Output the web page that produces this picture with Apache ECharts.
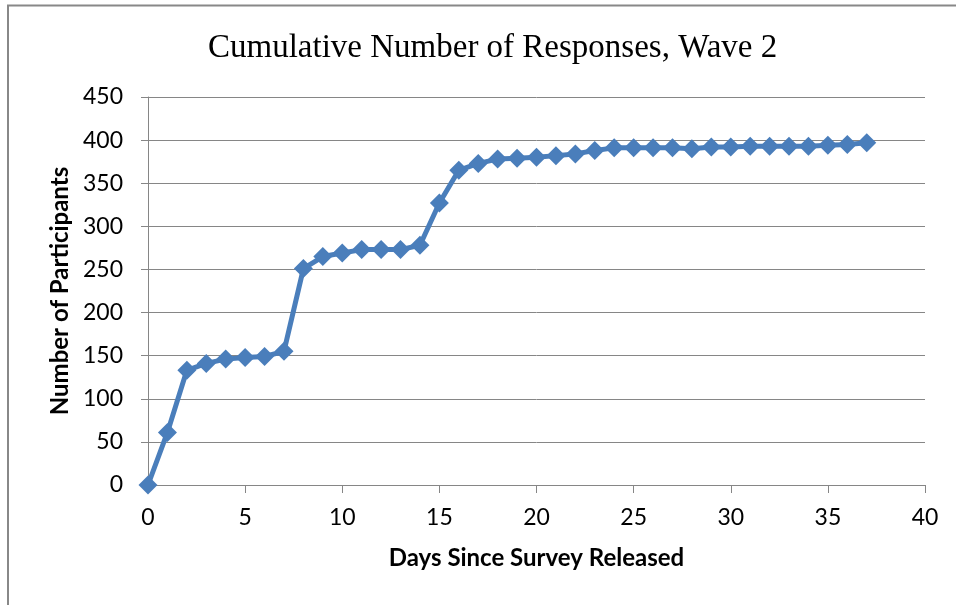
<!DOCTYPE html>
<html>
<head>
<meta charset="utf-8">
<script src="https://cdn.jsdelivr.net/npm/echarts@6/dist/echarts.min.js"></script>
<style>html,body{margin:0;padding:0;background:#fff}#c{width:956px;height:605px}</style>
</head>
<body>
<div id="c"></div>
<script>
const titleText = "Cumulative Number of Responses, Wave 2";
const xAxisName = "Days Since Survey Released";
const yAxisName = "Number of Participants";
const days = [0,1,2,3,4,5,6,7,8,9,10,11,12,13,14,15,16,17,18,19,20,21,22,23,24,25,26,27,28,29,30,31,32,33,34,35,36,37];
const responses = [0,61,133,141,146,148,149,155,251,265,269,273,273,273,278,327,365,373,378,379,380,382,384,388,391,391,391,391,390,392,392,393,393,393,393,394,395,397];

const chart = echarts.init(document.getElementById('c'), null, {renderer:'canvas'});
const axisGray = '#868686';
chart.setOption({
  animation: false,
  backgroundColor: '#fff',
  title: {
    text: titleText, left: 203, top: 27,
    textStyle: {fontFamily: 'Liberation Serif', fontWeight: 'normal', fontSize: 33, color: '#000'}
  },
  graphic: [{
    type: 'polyline', silent: true,
    shape: {points: [[8, 610], [8, 5.5], [960, 5.5]]},
    style: {stroke: '#888', lineWidth: 2, fill: null}
  }],
  grid: {left: 148, right: 31, top: 97, bottom: 120},
  xAxis: {
    type: 'value', min: 0, max: 40, interval: 5,
    name: xAxisName, nameLocation: 'middle', nameGap: 61,
    nameTextStyle: {fontFamily: 'Lato', fontWeight: 'bold', fontSize: 24, color: '#000'},
    axisLine: {show: true, lineStyle: {color: axisGray, width: 1}},
    axisTick: {show: true, length: 8, lineStyle: {color: axisGray}},
    axisLabel: {fontFamily: 'Lato', fontSize: 23, color: '#000', margin: 21},
    splitLine: {show: false}
  },
  yAxis: {
    type: 'value', min: 0, max: 450, interval: 50,
    name: yAxisName, nameLocation: 'middle', nameGap: 74,
    nameTextStyle: {fontFamily: 'Lato', fontWeight: 'bold', fontSize: 24, color: '#000'},
    axisLine: {show: true, lineStyle: {color: axisGray, width: 1}},
    axisTick: {show: true, length: 7, lineStyle: {color: axisGray}},
    axisLabel: {fontFamily: 'Lato', fontSize: 23, color: '#000', margin: 25},
    splitLine: {show: true, lineStyle: {color: axisGray, width: 1}}
  },
  series: [{
    type: 'line',
    data: days.map((d, i) => [d, responses[i]]),
    symbol: 'diamond', symbolSize: 19,
    lineStyle: {color: '#4a7ebb', width: 5},
    itemStyle: {color: '#4a7ebb'},
    clip: false
  }]
});
</script>
</body>
</html>
